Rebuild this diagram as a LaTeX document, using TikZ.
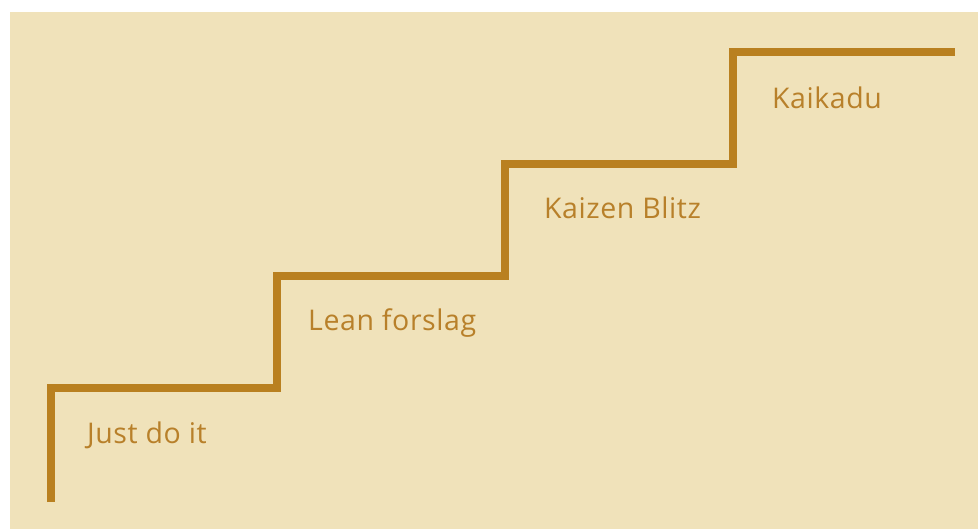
\documentclass[tikz,border=0pt]{standalone}
\usepackage{fontspec}
\setmainfont[LetterSpace=2]{Open Sans}
\definecolor{bg}{HTML}{F0E2BA}
\definecolor{stair}{HTML}{B98020}
\definecolor{txt}{HTML}{B8802A}
\begin{document}
\begin{tikzpicture}[x=1pt,y=-1pt,
  lbl/.style={anchor=base west,inner sep=0pt,text=txt,font=\fontsize{28.5}{34}\selectfont}]
\useasboundingbox (0,0) rectangle (978,529);
\fill[bg] (10,12) rectangle (978,529);
\coordinate (s0) at (51,502);
\coordinate (s1) at (51,388);
\coordinate (s2) at (277,388);
\coordinate (s3) at (277,276);
\coordinate (s4) at (505,276);
\coordinate (s5) at (505,164);
\coordinate (s6) at (733,164);
\coordinate (s7) at (733,52);
\coordinate (s8) at (955,52);
\draw[stair,line width=8pt] (s0) -- (s1) -- (s2) -- (s3) -- (s4) -- (s5) -- (s6) -- (s7) -- (s8);
\node[lbl] (l1) at (87,443) {Just do it};
\node[lbl] (l2) at (308,331) {Lean forslag};
\node[lbl] (l3) at (544,219) {Kaizen Blitz};
\node[lbl] (l4) at (772,109) {Kaikadu};
\end{tikzpicture}
\end{document}
